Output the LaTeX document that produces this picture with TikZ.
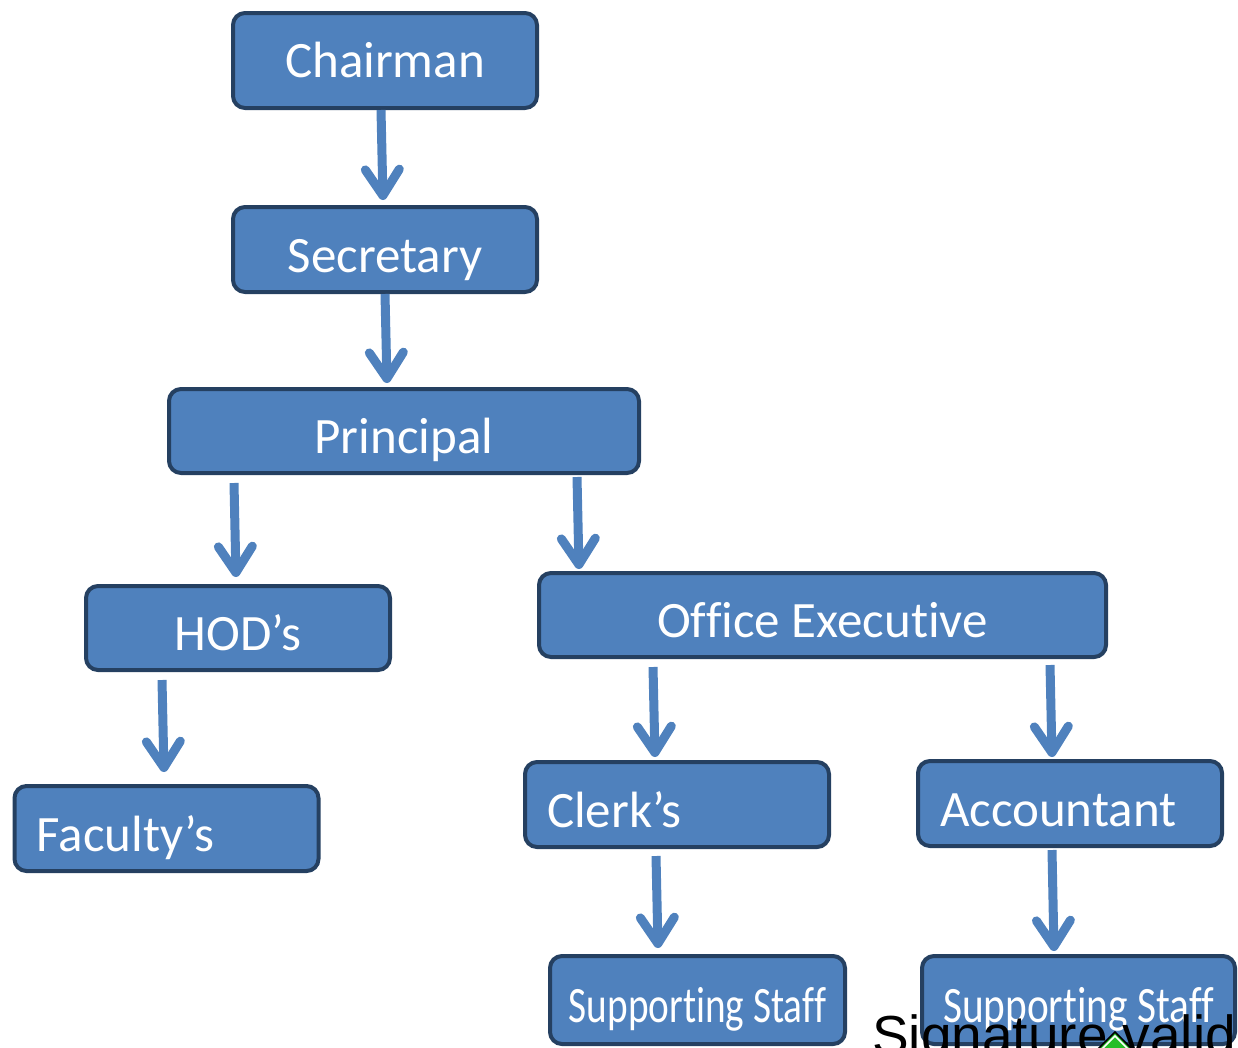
\documentclass[tikz,border=0pt]{standalone}
\usepackage{fontspec}
\setmainfont{Carlito}[Ligatures=NoCommon]
\newfontfamily\sigfont{Liberation Sans}
\usetikzlibrary{arrows.meta}
\definecolor{boxfill}{RGB}{79,129,189}
\definecolor{boxline}{RGB}{37,64,97}
\definecolor{shade}{RGB}{158,158,158}
\definecolor{okgreen}{RGB}{40,190,40}
\begin{document}
\begin{tikzpicture}[x=1pt,y=-1pt,
  orgbox/.style={draw=boxline, fill=boxfill, line width=4pt, rounded corners=12pt,
    text=white, font=\fontsize{51pt}{60pt}\selectfont, inner sep=0pt,
    text height=45pt, text depth=0pt, minimum height=85pt},
  leftbox/.style={orgbox, text width=260pt, align=left, inner xsep=22pt},
  arr/.style={draw=boxfill, line width=9pt,
    -{Straight Barb[length=26pt,width=34pt,round]},
    preaction={draw=shade, transform canvas={shift={(2pt,-3pt)}}}}
]
\useasboundingbox (0,0) rectangle (1238,1047);
\clip (0,0) rectangle (1238,1047);

% boxes
\node[orgbox, minimum width=304pt, minimum height=95pt, text height=33pt] (chair) at (385,60.5) {Chairman};
\node[orgbox, minimum width=304pt] (sec) at (385,249.5) {Secretary};
\node[orgbox, minimum width=470pt, minimum height=84pt] (prin) at (404,431) {Principal};
\node[orgbox, minimum width=304pt, minimum height=84pt] (hod) at (238,628) {HOD’s};
\node[orgbox, minimum width=567pt, minimum height=84pt] (office) at (822.5,615) {Office Executive};
\node[leftbox] (fac) at (166.5,828.5) {Faculty’s};
\node[leftbox] (clerk) at (677,804.5) {Clerk’s};
\node[leftbox] (acct) at (1070,803.5) {Accountant};
\node[orgbox, minimum width=295pt, minimum height=88pt] (ss1) at (697.5,1000) {\scalebox{0.77}[1]{Supporting Staff}};
\node[orgbox, minimum width=313pt, minimum height=88pt] (ss2) at (1078.5,1000) {\scalebox{0.81}[1]{Supporting Staff}};

% connectors
\draw[arr] ([xshift=-4pt]chair.south) -- ([xshift=-2pt,yshift=5pt]sec.north);
\draw[arr] ([xshift=0pt]sec.south) -- ([xshift=-17pt,yshift=4pt]prin.north);
\draw[arr] ([xshift=-170pt,yshift=-8pt]prin.south) -- ([xshift=-2pt,yshift=7pt]hod.north);
\draw[arr] ([xshift=173pt,yshift=-2pt]prin.south) -- ([xshift=-243.5pt,yshift=2pt]office.north);
\draw[arr] ([xshift=-76pt,yshift=-8pt]hod.south) -- ([xshift=-2.5pt,yshift=12pt]fac.north);
\draw[arr] ([xshift=-169.5pt,yshift=-8pt]office.south) -- ([xshift=-22pt,yshift=3pt]clerk.north);
\draw[arr] ([xshift=227.5pt,yshift=-6pt]office.south) -- ([xshift=-18pt,yshift=2pt]acct.north);
\draw[arr] ([xshift=-21pt,yshift=-7pt]clerk.south) -- ([xshift=-39.5pt,yshift=6pt]ss1.north);
\draw[arr] ([xshift=-18pt,yshift=-2pt]acct.south) -- ([xshift=-24.5pt,yshift=3pt]ss2.north);

% signature overlay
\node[anchor=base west, inner sep=0pt, font=\sigfont\fontsize{55pt}{60pt}\selectfont, text=black] (sig) at (872,1054) {Signature valid};
\draw[black, line width=1.5pt, fill=okgreen] (1115,1032) -- (1142,1059) -- (1115,1086) -- (1088,1059) -- cycle;
\draw[white, line width=1.5pt] (1115,1036) -- (1138,1059) -- (1115,1082) -- (1092,1059) -- cycle;
\end{tikzpicture}
\end{document}
